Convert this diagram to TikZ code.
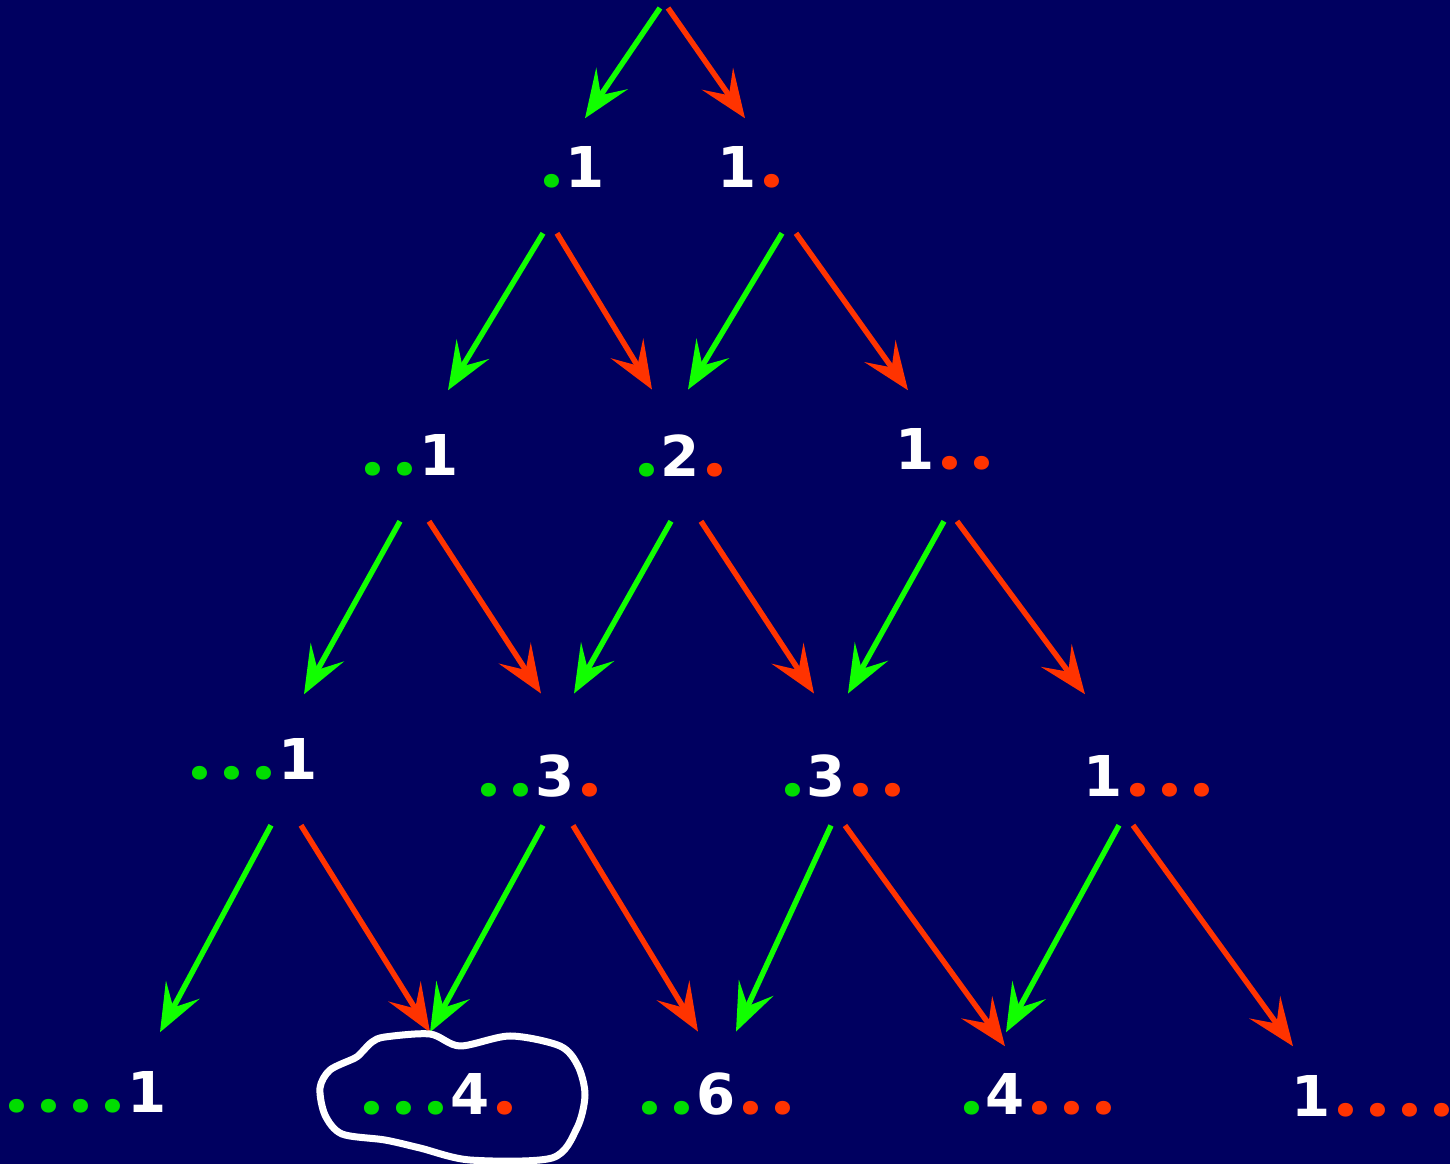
\documentclass[tikz,border=0pt]{standalone}
\usepackage{fontspec}
\setmainfont{DejaVu Sans}
\newfontfamily\dotfont{Poppins}
\usepackage{xcolor}
\usetikzlibrary{arrows.meta,calc}

\definecolor{bgblue}{HTML}{000060}
\definecolor{arrgreen}{HTML}{11FF00}
\definecolor{arrred}{HTML}{FF3300}
\definecolor{dotgreen}{HTML}{00DD00}
\definecolor{dotred}{HTML}{FF3300}

% green dots before a number, red dots after it
\newcommand{\onedot}{\makebox[0.32cm][c]{\dotfont\fontsize{21}{21}\selectfont\bfseries .}}
\newcommand{\gdots}[1]{\llap{\color{dotgreen}\foreach\i in {1,...,#1}{\onedot}\kern-0.02cm}}
\newcommand{\rdots}[1]{\rlap{\kern-0.01cm\color{dotred}\foreach\i in {1,...,#1}{\onedot}}}

\begin{document}
\begin{tikzpicture}[x=0.01cm, y=-0.01cm,
  num/.style={text=white, inner sep=0pt, anchor=base,
              font=\fontsize{16}{18}\selectfont\bfseries},
  tip/.style={-{Stealth[length=0.48cm, width=0.38cm, inset=0.2cm]}},
  garr/.style={draw=arrgreen, line width=0.055cm, tip},
  rarr/.style={draw=arrred, line width=0.055cm, tip}
]
\fill[bgblue] (0,0) rectangle (1450,1164);
\useasboundingbox (0,0) rectangle (1450,1164);

% Rows of the triangle
\coordinate (top) at (664,8);
\node[num] (a1) at (585,188)  {\gdots{1}1};
\node[num] (b1) at (737,188)  {1\rdots{1}};
\node[num] (a2) at (439,476)  {\gdots{2}1};
\node[num] (b2) at (680,477)  {\gdots{1}2\rdots{1}};
\node[num] (c2) at (915,470)  {1\rdots{2}};
\node[num] (a3) at (298,780)  {\gdots{3}1};
\node[num] (b3) at (555,797)  {\gdots{2}3\rdots{1}};
\node[num] (c3) at (826,797)  {\gdots{1}3\rdots{2}};
\node[num] (d3) at (1103,797) {1\rdots{3}};
\node[num] (a4) at (147,1113) {\gdots{4}1};
\node[num] (b4) at (470,1115) {\gdots{3}4\rdots{1}};
\node[num] (c4) at (716,1115) {\gdots{2}6\rdots{2}};
\node[num] (d4) at (1005,1115) {\gdots{1}4\rdots{3}};
\node[num] (e4) at (1311,1117) {1\rdots{4}};

% Arrows, green to the left, red to the right
\draw[garr] ($(top)+(-4,0)$) -- ($(a1.north)+(0,-28)$);
\draw[rarr] ($(top)+(4,0)$) -- ($(b1.north)+(8,-28)$);

\draw[garr] ($(a1.south)+(-42,44)$) -- ($(a2.north)+(9,-44)$);
\draw[rarr] ($(a1.south)+(-28,44)$) -- ($(b2.north)+(-28,-45)$);
\draw[garr] ($(b1.south)+(45,44)$) -- ($(b2.north)+(8,-45)$);
\draw[rarr] ($(b1.south)+(59,44)$) -- ($(c2.north)+(-7,-38)$);

\draw[garr] ($(a2.south)+(-39,44)$) -- ($(a3.north)+(6,-44)$);
\draw[rarr] ($(a2.south)+(-10,44)$) -- ($(b3.north)+(-14,-61)$);
\draw[garr] ($(b2.south)+(-9,43)$) -- ($(b3.north)+(19,-61)$);
\draw[rarr] ($(b2.south)+(21,43)$) -- ($(c3.north)+(-12,-61)$);
\draw[garr] ($(c2.south)+(29,50)$) -- ($(c3.north)+(22,-61)$);
\draw[rarr] ($(c2.south)+(42,50)$) -- ($(d3.north)+(-18,-61)$);

\draw[garr] ($(a3.south)+(-27,44)$) -- ($(a4.north)+(13,-39)$);
\draw[rarr] ($(a3.south)+(3,44)$) -- ($(b4.north)+(-40,-41)$);
\draw[garr] ($(b3.south)+(-12,27)$) -- ($(b4.north)+(-40,-41)$);
\draw[rarr] ($(b3.south)+(18,27)$) -- ($(c4.north)+(-18,-41)$);
\draw[garr] ($(c3.south)+(5,27)$) -- ($(c4.north)+(20,-41)$);
\draw[rarr] ($(c3.south)+(19,27)$) -- ($(d4.north)+(0,-27)$);
\draw[garr] ($(d3.south)+(16,27)$) -- ($(d4.north)+(1,-41)$);
\draw[rarr] ($(d3.south)+(30,27)$) -- ($(e4.north)+(-18,-29)$);

% Freehand loop round the marked term
\draw[white, line width=0.07cm, line join=round]
  plot[smooth cycle, tension=0.5] coordinates {(362,1052) (372,1042) (385,1037) (430,1034)
    (460,1046) (510,1036) (560,1046) (578,1066) (585,1095) (577,1128) (552,1158)
    (470,1160) (420,1148) (385,1140) (342,1134) (325,1115) (320,1088) (330,1070) (355,1058)};
\end{tikzpicture}
\end{document}
